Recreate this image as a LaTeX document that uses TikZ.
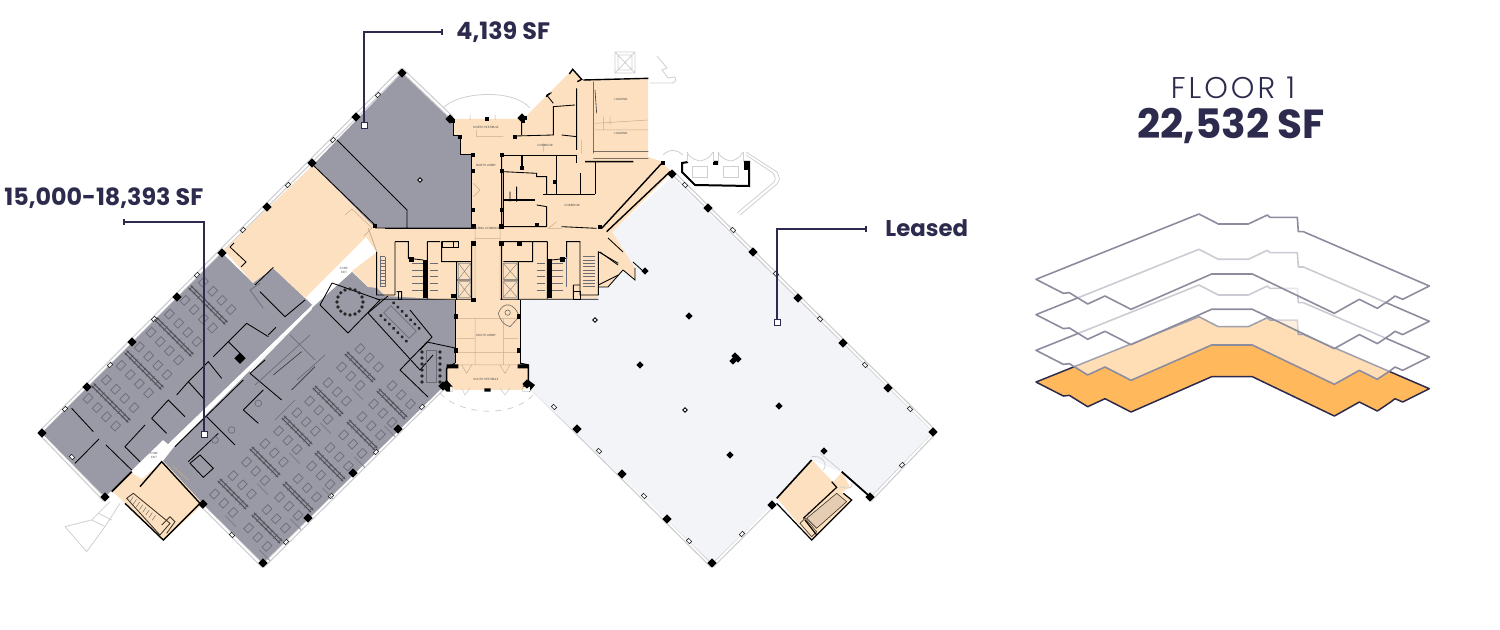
\documentclass[tikz,border=0pt]{standalone}
\usepackage{fontspec}
\setmainfont{Poppins}
\newfontfamily\lightf[LetterSpace=10]{Poppins Light}
\definecolor{navy}{HTML}{2D2B4D}
\definecolor{slab}{HTML}{9A9AA6}
\definecolor{tan}{HTML}{FDE0BF}
\definecolor{lease}{HTML}{F3F4F8}
\definecolor{amber}{HTML}{FFB85C}
\definecolor{glass}{HTML}{CFCFD3}
\definecolor{desk}{HTML}{6C6C78}
\definecolor{door}{HTML}{C9AC8C}
\definecolor{floorline}{HTML}{8D8C9E}
\tikzset{
  wall/.style={draw=black,line width=.42pt,line join=miter},
  thickwall/.style={draw=black,line width=1.3pt},
  thinwall/.style={draw=black!80,line width=.3pt},
  faint/.style={draw=door,line width=.25pt},
  deskline/.style={draw=desk,line width=.35pt},
  paleline/.style={draw=glass,line width=.4pt},
  leader/.style={draw=navy,line width=.6pt},
  marker/.style={draw=navy,fill=white,line width=.5pt},
  big/.style={font=\bfseries\fontsize{11.9}{14}\selectfont,text=navy,inner sep=0pt},
  tiny/.style={font=\fontsize{1.5}{2}\selectfont,text=black!70,inner sep=0pt,align=center},
}
% long cluster: four desks a side; short cluster: three desks a side
\newcommand\clusterlong[2]{%
  \begin{scope}[shift={(#1,#2)},rotate=-45]
    \draw[draw=desk!75!black,line width=.45pt] (-26,-1.5) -- (26,-1.5) (-26,1.5) -- (26,1.5);
    \foreach \t in {-24,-18,...,24} \draw[draw=desk!75!black,line width=.25pt] (\t,-3) -- (\t,3);
    \foreach \t in {-19.5,-6.5,6.5,19.5} {
      \draw[deskline] (\t-3,9) rectangle (\t+3,17);
      \draw[deskline] (\t-3,-9) rectangle (\t+3,-17);
    }
  \end{scope}}
\newcommand\clustershort[2]{%
  \begin{scope}[shift={(#1,#2)},rotate=-45]
    \draw[draw=desk!75!black,line width=.45pt] (-20,-1.5) -- (20,-1.5) (-20,1.5) -- (20,1.5);
    \foreach \t in {-18,-12,...,18} \draw[draw=desk!75!black,line width=.25pt] (\t,-3) -- (\t,3);
    \foreach \t in {-13,0,13} {
      \draw[deskline] (\t-3,9) rectangle (\t+3,17);
      \draw[deskline] (\t-3,-9) rectangle (\t+3,-17);
    }
    \draw[deskline,draw=desk!70!slab] (10,21) -- (25,21);
  \end{scope}}
\newcommand\floorpath{(48,238) -- (537,42) -- (595,72) -- (685,72) -- (742,45) -- (750,52) -- (832,52) -- (835,95) -- (850,95) -- (1228,258) -- (1148,298) -- (1125,288) -- (1112,298) -- (1072,325) -- (1018,298) -- (943,340) -- (697,222) -- (575,222) -- (333,328) -- (255,288) -- (203,312) -- (148,278) -- (130,280) -- cycle}
\begin{document}
\begin{tikzpicture}[x=.5pt,y=-.5pt]
\useasboundingbox (0,0) rectangle (1500,630);
% glazing strips
\foreach \a/\b/\c/\d in {402/70/312/160,312/160/222/250,222/250/40/433,40/433/105/500,203/506/263/566,263/566/445/386,530/386/712/566,712/566/772/506,870/500/935/432,935/432/672/172,402/70/452/118}{
  \draw[draw=glass,line width=2.2pt] (\a,\b) -- (\c,\d);
  \draw[draw=white,line width=.9pt] (\a,\b) -- (\c,\d);
}
% floor plates
\fill[lease] (612,232) -- (672,177) -- (933,432) -- (870,497) -- (840,472) -- (812,460) -- (772,505) -- (712,563) -- (528,387) -- (528,365) -- (520,363) -- (520,300) -- (598,298) -- cycle;
\fill[slab] (402,73) -- (450,119) -- (453,119) -- (453,135) -- (460,135) -- (460,155) -- (472,155) -- (472,228) -- (375,228) -- (313,165) -- cycle;
\fill[slab] (222,253) -- (253,283) -- (273,268) -- (305,298) -- (312,305) -- (168,444) -- (163,440) -- (132,470) -- (105,497) -- (42,433) -- cycle;
\fill[slab] (174,447) -- (312,308) -- (352,272) -- (368,287) -- (377,287) -- (385,295) -- (455,300) -- (455,363) -- (447,368) -- (447,383) -- (440,390) -- (263,563) -- (203,504) -- (163,461) -- cycle;
\fill[tan] (313,165) -- (375,228) -- (366,237) -- (305,298) -- (273,268) -- (253,283) -- (224,250) -- cycle;
\fill[tan] (375,228) -- (472,228) -- (472,155) -- (460,155) -- (460,135) -- (453,135) -- (453,119) -- (522,119) -- (525,117) -- (572,70) -- (582,80) -- (648,79) -- (648,157) -- (660,161) -- (672,172) -- (612,232) -- (635,268) -- (635,280) -- (623,270) -- (608,287) -- (598,287) -- (598,298) -- (520,300) -- (520,363) -- (528,365) -- (528,387) -- (522,390) -- (455,390) -- (447,383) -- (447,368) -- (455,363) -- (455,300) -- (385,296) -- (377,288) -- (368,287) -- (352,271) -- (377,252) -- (366,237) -- cycle;
\fill[tan] (113,492) -- (130,472) -- (142,479) -- (163,461) -- (203,504) -- (163,541) -- (125,503) -- cycle;
\fill[tan] (812,460) -- (777,498) -- (812,540) -- (852,500) -- (842,492) -- (850,487) -- (842,472) -- (833,482) -- cycle;
% columns
\foreach \x/\y in {402/73,356/117,312/163,267/207,222/253,177/297,132/342,87/387,42/433,105/497,203/504,263/563,308/518,353/473,398/429,443/386,527/384,577/429,622/474,667/519,712/563,772/505,870/497,933/432,843/343,888/388,798/298,753/252,708/208,672/174,450/119,522/118}
  \fill[shift={(\x,\y)},rotate=45,black] (-3.2,-3.2) rectangle (3.2,3.2);
\foreach \x/\y in {645/271,689/316,640/365,735/356,738/359,733/361,779/406,730/455,824/451}
  \fill[shift={(\x,\y)},rotate=45,black] (-2.6,-2.6) rectangle (2.6,2.6);
\foreach \x/\y in {420/180,595/320,685/410}
  \draw[shift={(\x,\y)},rotate=45,draw=black,fill=white,line width=.4pt] (-1.6,-1.6) rectangle (1.6,1.6);
% window brackets
\foreach \x/\y/\r in {378/95/0,333/140/0,288/185/0,243/230/0,197/275/0,154/319/0,110/365/0,65/409/0,72/457/90,554/407/90,599/451/90,644/496/90,689/541/90,742/534/0,733/230/90,776/274/90,820/319/90,865/365/90,910/409/90,902/465/0,685/185/90,232/535/90,286/542/0,331/496/0,376/452/0,422/407/0}
  \draw[shift={(\x,\y)},rotate=45+\r,draw=black!85,fill=white,line width=.3pt] (-2.2,-1.6) rectangle (2.2,1.6);
% workstations
\clusterlong{208}{305}\clusterlong{174}{337}\clusterlong{144}{370}\clusterlong{111}{403}
\clustershort{360}{367}\clustershort{328}{401}\clustershort{392}{404}\clustershort{297}{431}\clustershort{362}{435}
\clustershort{265}{462}\clustershort{330}{466}\clustershort{233}{494}\clustershort{298}{497}\clustershort{267}{528}
% upper grey partition
\draw[wall] (313,165) -- (375,225);
\draw[wall] (337,140) -- (407,210) -- (407,228) (375,228) -- (472,228);
% tan block brackets
\draw[wall] (230,247) -- (246,262) -- (241,267) (230,247) -- (234,243);
\draw[faint] (345,215) -- (352,209) -- (372,228) -- (364,236);
% left wing walls (zoom units)
\begin{scope}[shift={(30,240)},scale=1/3]
  \draw[wall] (125,505) -- (190,575) (207,597) -- (135,670) (228,615) -- (305,690);
  \draw[wall] (345,555) -- (285,620) -- (330,665) (365,535) -- (410,580) (365,535) -- (415,480) -- (465,530) (440,465) -- (475,425) -- (520,475) (475,425) -- (535,365) -- (575,415) (550,350) -- (595,305) -- (640,350) (595,305) -- (650,250) -- (715,290) (715,285) -- (738,262) (690,155) -- (765,230) -- (825,180) (675,135) -- (730,82);
  \fill[black,shift={(630,355)},rotate=45] (-12,-12) rectangle (12,12);
  \draw[wall] (435,620) -- (640,420);
  \draw[wall] (660,400) -- (705,360) (660,400) -- (755,480) (530,530) -- (615,615) (565,580) -- (475,665) (640,510) -- (685,550) (700,450) -- (640,510);
  \draw[wall] (510,645) -- (550,685) -- (520,712) -- (480,670) -- cycle;
  \draw[draw=white,line width=.7pt] (660,395) -- (845,205);
  \draw[thinwall] (730,405) -- (815,335) (785,450) -- (855,380);
  \draw[deskline] (660,150) -- (700,205) (660,150) -- (690,130) (555,600) circle (10) (605,570) circle (10) (685,490) circle (10);
  \draw[wall,line width=.9pt] (245,755) -- (305,695);
  \draw[wall,line width=.7pt] (330,740) -- (395,665) -- (510,790) -- (400,900) -- (285,790);
  \draw[wall,draw=black!70!door] (290,775) -- (310,760) -- (420,850) -- (390,885) -- cycle (395,855) -- (420,830) -- (435,845) -- (410,880);
  \foreach \t in {0,.1,...,.8} \draw[faint,draw=desk] ({310+\t*95},{770+\t*80}) -- ({300+\t*95},{785+\t*80});
  \draw[paleline] (105,860) -- (170,935) (105,860) -- (185,840) -- (240,785) (170,935) -- (225,860) -- (270,790) (185,840) -- (225,860) (205,820) -- (245,840);
  \draw[faint] (430,680) -- (475,720);
  \fill[black,shift={(518,793)},rotate=45] (-9,-9) rectangle (9,9);
\end{scope}
% centre and upper rooms (zoom 1 units)
\begin{scope}[shift={(340,50)},scale=1/3]
  \draw[wall] (135,535) -- (395,535) (340,215) -- (340,255) -- (360,255) -- (360,312) -- (395,312) -- (395,535);
  \draw[wall] (485,312) -- (485,535) (545,205) -- (545,255) (525,258) -- (640,255) -- (640,170) -- (705,165) (665,255) -- (710,260) (710,115) -- (710,300);
  \draw[wall] (620,135) -- (640,160) (620,135) -- (635,128);
  \draw[thinwall] (760,95) -- (760,310) (765,120) -- (770,190) (760,305) -- (925,305) (760,325) -- (925,325);
  \draw[wall,line width=.7pt] (730,90) -- (925,85) (735,335) -- (880,335);
  \draw[wall] (765,335) -- (765,432) (610,432) -- (765,432) (650,315) -- (650,432) (720,370) -- (720,432) (710,315) -- (710,340) (550,315) -- (710,315) (485,315) -- (545,315);
  \draw[wall,line width=1pt] (545,315) -- (545,360);
  \draw[wall] (490,365) -- (590,370) -- (590,380) -- (620,380) -- (620,432);
  \draw[thickwall,line width=1.4pt] (490,450) -- (585,450);
  \draw[wall] (490,365) -- (490,535) (510,425) -- (510,455) (530,410) -- (530,455) (620,470) -- (620,530) (590,465) -- (620,470) (490,530) -- (620,530) (665,530) -- (770,535);
  \draw[wall,line width=.7pt] (785,535) -- (965,340) (800,545) -- (990,365);
  \draw[faint] (765,220) -- (925,210) (765,240) -- (925,240) (790,200) -- (790,240) (810,200) -- (810,225) (390,195) -- (390,210) (465,195) -- (465,210) (410,240) -- (410,260) -- (490,260) (610,280) -- (610,305) (725,270) -- (725,310) (400,400) -- (420,420) -- (400,440) (650,515) -- (625,535) -- (665,535);
  \foreach \x/\y in {398/363,398/480,398/530,485/363,485/480,485/530,398/315,485/315,525/262,361/260,645/395,590/526,545/355,780/530,440/208,970/340,338/212,548/212,330/205,555/205,105/527}
    \fill[black] (\x-6,\y-6) rectangle (\x+6,\y+6);
  \draw[wall,line width=.7pt] (688,72) -- (698,58) -- (725,88) -- (712,95) (630,130) -- (618,140);
\end{scope}
% lower centre rooms (zoom 2 units)
\begin{scope}[shift={(340,220)},scale=1/3]
  \draw[wall] (110,95) -- (110,225) -- (165,225) (165,65) -- (165,225) (165,65) -- (205,65) -- (205,115) -- (250,120) (262,65) -- (262,235) (262,65) -- (300,65) (305,65) -- (305,125) -- (395,125) (305,65) -- (355,65) (395,65) -- (395,240) (350,125) -- (350,240) (350,180) -- (395,180) (110,238) -- (395,238);
  \draw[wall] (485,65) -- (485,240) (490,125) -- (578,125) -- (578,65) -- (490,65) (490,180) -- (535,180) (535,125) -- (535,240) (578,65) -- (622,65) (622,65) -- (622,235) (635,120) -- (680,115) -- (680,65) -- (720,65) -- (720,225) -- (775,225) -- (775,95) (480,238) -- (775,238);
  \draw[wall] (775,95) -- (835,130) (775,195) -- (835,165) (700,195) -- (720,195) (700,195) -- (700,235) (170,215) -- (185,215) -- (185,238);
  \draw[thickwall,line width=1.7pt] (255,120) -- (255,235) (630,118) -- (630,235);
  \draw[wall] (345,240) -- (345,430) (540,240) -- (540,430);
  \draw[wall,line width=.7pt] (345,430) -- (320,445) -- (320,490) (540,430) -- (565,435) -- (565,500);
  \foreach \x/\y in {120/110,135/110,680/110}
    \draw[faint,draw=desk] (\x,\y) -- (\x,200);
  \foreach \y in {110,120,...,200} {
    \draw[faint,draw=desk] (120,\y) -- (135,\y) (730,\y) -- (765,\y);
  }
  \foreach \y in {130,150,...,210} {
    \draw[faint,draw=desk] (215,\y) -- (248,\y) (637,\y) -- (670,\y) (270,\y) -- (295,\y) (590,\y) -- (615,\y);
  }
  \draw[faint,draw=black!45] (355,130) rectangle (392,178) (355,130) -- (392,178) (392,130) -- (355,178) (355,185) rectangle (392,232) (355,185) -- (392,232) (392,185) -- (355,232) (490,130) rectangle (532,178) (490,130) -- (532,178) (532,130) -- (490,178) (490,185) rectangle (532,232) (490,185) -- (532,232) (532,185) -- (490,232);
  \draw[faint] (350,295) -- (535,295) (350,398) -- (535,398) (350,435) -- (535,435) (405,295) -- (405,435) (490,295) -- (490,435) (405,25) -- (405,240) (480,25) -- (480,240) (405,55) -- (480,55) (350,355) -- (405,355) (490,355) -- (535,355) (365,435) -- (380,460) -- (395,435) (480,435) -- (495,460) -- (510,435);
  \draw[paleline,line width=.3pt] (365,505) -- (375,525) -- (390,505) (480,505) -- (495,525) -- (510,505);
  \draw[wall,line width=.3pt,draw=black!60] (475,280) .. controls (490,240) and (525,250) .. (538,290) -- (510,320) .. controls (490,315) and (480,300) .. (475,280) (503,278) circle (8);
  \draw[wall,draw=door] (85,25) -- (110,95);
  \foreach \x/\y in {400/20,485/20,400/70,485/70,538/70,348/290,348/392,537/290,537/392,340/228,400/240,215/118,668/118}
    \fill[black] (\x-7,\y-7) rectangle (\x+7,\y+7);
  \fill[black] (320,433) rectangle (355,445) (533,433) rectangle (565,445) (330,500) rectangle (338,515) (433,505) rectangle (452,515) (548,500) rectangle (570,515) (302,495) -- (320,480) -- (338,500) -- (338,515) -- (320,515) -- cycle (565,480) -- (585,495) -- (568,515) -- (548,515) -- (548,500) -- cycle;
  \draw[wall,line width=.3pt] (308,65) rectangle (340,82) (340,65) rectangle (355,82) (175,215) rectangle (185,238) (700,215) rectangle (720,238);
\end{scope}
% right wing walls
\draw[wall] (608,238) -- (623,252) (600,252) -- (618,265) (633,262) -- (643,271) (623,270) -- (635,280) -- (635,268) (598,287) -- (608,287) -- (623,270);
% right stair core (zoom 6 units)
\begin{scope}[shift={(680,400)},scale=1/3]
  \fill[tan!70!desk!55!tan] (380,355) -- (470,280) -- (500,305) -- (410,385) -- cycle;
  \draw[wall,line width=.8pt] (290,295) -- (395,180);
  \draw[wall,line width=.6pt] (290,310) -- (395,420) -- (515,300) -- (490,280) (370,355) -- (470,262) -- (455,245) (375,360) -- (410,405);
  \draw[wall,line width=.3pt,draw=black!70!door] (380,355) -- (470,280) -- (500,305) -- (410,385) -- cycle (360,370) -- (375,355) -- (410,395) -- (395,410) -- cycle;
  \draw[wall,line width=.9pt] (485,215) -- (570,290);
  \draw[paleline] (395,170) .. controls (425,165) and (445,190) .. (430,210) (420,160) -- (480,210) (480,260) .. controls (510,270) and (520,260) .. (515,250);
\end{scope}
% conference rooms
\draw[wall] (320,305) -- (332,283) (320,305) -- (348,333) (332,283) -- (380,300) (348,333) -- (380,300);
\foreach \a in {0,22.5,...,337.5} \fill[black!85] ({350+13*cos(\a)},{302+13*sin(\a)}) circle (1.8);
\draw[wall] (368,313) -- (388,296) (368,313) -- (420,370) (420,370) -- (433,355) (420,350) -- (432,337) -- (410,310);
\begin{scope}[shift={(400,322)},rotate=-45]
  \draw[deskline] (-18,-5) rectangle (18,5);
  \foreach \t in {-18,-12,...,18} \fill[black!85] (\t,9) circle (1.8) (\t,-9) circle (1.8);
\end{scope}
\draw[wall] (400,370) -- (427,342) -- (455,348) (400,370) -- (428,397);
\begin{scope}[shift={(431,366)},rotate=90]
  \draw[deskline] (-16,-5) rectangle (16,5);
  \foreach \t in {-16,-10,...,16} \fill[black!85] (\t,9) circle (1.8) (\t,-9) circle (1.8);
\end{scope}
\draw[deskline] (290,335) -- (315,360) (297,380) -- (325,355) (255,385) -- (310,335) (275,420) -- (295,400);
% north and south arcs, annexes
\draw[paleline] (443,108) .. controls (458,92) and (512,88) .. (530,108);
\draw[paleline,dashed] (440,393) .. controls (455,412) and (510,422) .. (535,393);
\draw[paleline] (615,52) rectangle (635,73) (618,55) rectangle (632,70) (615,52) -- (635,73) (635,52) -- (615,73);
\draw[paleline] (657,56) -- (667,68) -- (662,70) -- (668,78) -- (675,77) .. controls (677,82) and (674,83) .. (672,83) -- (650,83);
\draw[wall,line width=1pt] (682,162) -- (682,172) -- (695,185) -- (749,186) -- (749,162) -- (744,162) (682,163) -- (688,162);
\fill[black] (713,161) rectangle (718,165) (744,162) rectangle (749,170);
\draw[paleline] (692,166) rectangle (707,177) (723,166) rectangle (738,177);
\draw[paleline] (687,152) -- (687,162) (743,152) -- (743,162) (713,152) -- (713,162) (718,152) -- (718,162);
\draw[paleline] (687,152) .. controls (690,160) and (698,160) .. (700,161) .. controls (705,160) and (710,158) .. (713,152);
\draw[paleline] (718,152) .. controls (722,160) and (728,160) .. (731,161) .. controls (735,160) and (740,158) .. (743,152);
\draw[paleline] (663,155) .. controls (670,148) and (678,150) .. (683,155);
\draw[paleline] (746,152) -- (777,172) .. controls (780,178) and (780,180) .. (777,184) -- (740,215) (746,155) -- (773,173) .. controls (776,178) and (776,180) .. (773,183) -- (737,213);
% tiny room labels
\node[tiny] (nv) at (486,127) {NORTH VESTIBULE};
\node[tiny] (nl) at (486,165) {NORTH LOBBY};
\node[tiny] (cc) at (486,228) {CENTRAL CORRIDOR};
\node[tiny] (sl) at (486,335) {SOUTH LOBBY};
\node[tiny] (sv) at (486,379) {SOUTH VESTIBULE};
\node[tiny] (lo1) at (621,99) {LOADING};
\node[tiny] (lo2) at (621,133) {LOADING};
\node[tiny] (sr) at (572,205) {CORRIDOR};
\node[tiny] (mc) at (545,145) {CORRIDOR};
\node[tiny] (ce1) at (344,270) {CORE\\EXIT};
\node[tiny] (ce2) at (154,455) {CORE\\EXIT};
% leaders and labels
\coordinate (a1) at (442,32); \coordinate (a2) at (364,32); \coordinate (a3) at (364,123);
\draw[leader] (a1) -- (a2) -- (a3); \draw[leader] (442,29) -- (442,35);
\node[marker,rectangle,minimum size=3pt,inner sep=0pt] (am) at (364,126) {};
\coordinate (b1) at (124,222); \coordinate (b2) at (204,222); \coordinate (b3) at (204,432);
\draw[leader] (b1) -- (b2) -- (b3); \draw[leader] (124,219) -- (124,225);
\node[marker,rectangle,minimum size=3pt,inner sep=0pt] (bm) at (204,435) {};
\coordinate (c1) at (866,229); \coordinate (c2) at (777,229); \coordinate (c3) at (777,320);
\draw[leader] (c1) -- (c2) -- (c3); \draw[leader] (866,226) -- (866,232);
\node[marker,rectangle,minimum size=3pt,inner sep=0pt] (cm) at (777,323) {};
\node[big,anchor=west] (la) at (456,32) {4,139 SF};
\node[big,anchor=west] (lb) at (4,198) {15,000-18,393 SF};
\node[big,anchor=west,font=\bfseries\fontsize{11.4}{14}\selectfont] (lc) at (885,228) {Leased};
\node[font=\lightf\fontsize{15}{17}\selectfont,text=navy,inner sep=0pt] (ft) at (1233,88) {FLOOR 1};
\node[font=\bfseries\fontsize{20.3}{23}\selectfont,text=navy,inner sep=0pt] (fs) at (1231,126) {22,532 SF};
% floor stack
\begin{scope}[shift={(1020,302.7)},scale=1/3]
  \fill[amber] \floorpath;
  \draw[navy,line width=.75pt,line join=round] \floorpath;
\end{scope}
\foreach \o in {271,235.3,200}{
\begin{scope}[shift={(1020,\o)},scale=1/3]
  \fill[white,fill opacity=.55] \floorpath;
  \draw[floorline,line width=.8pt,line join=round] \floorpath;
\end{scope}}
\end{tikzpicture}
\end{document}
